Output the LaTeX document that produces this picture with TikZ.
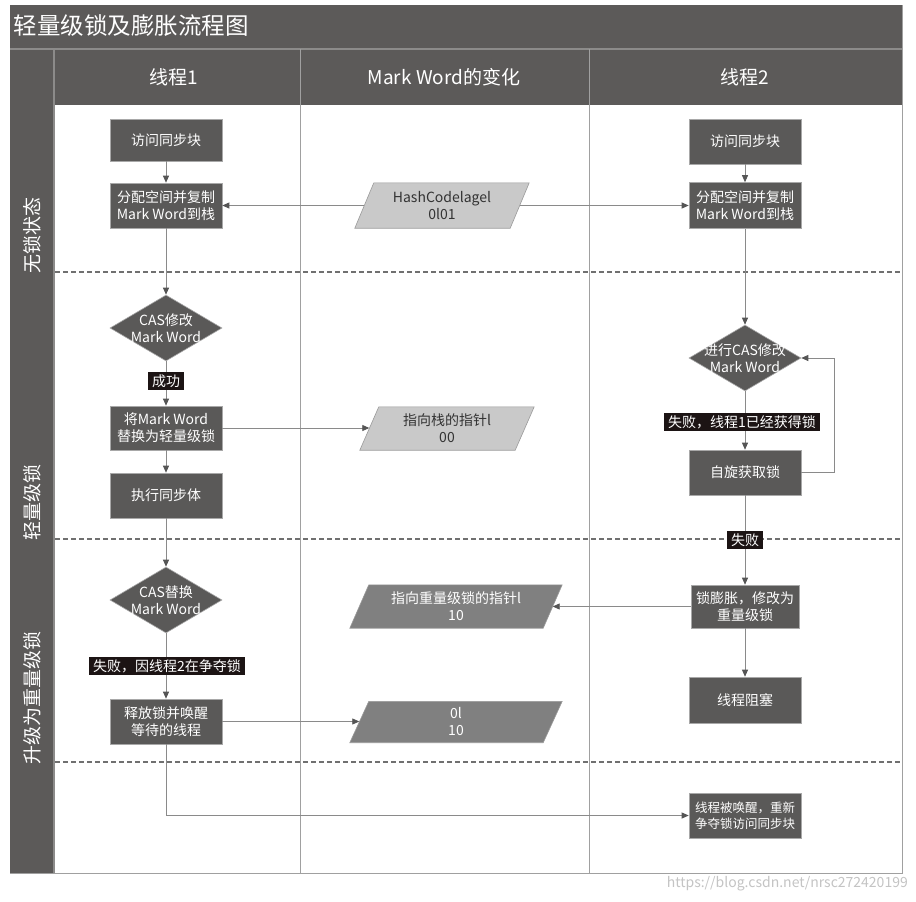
\documentclass[tikz,border=0pt]{standalone}
\usepackage{fontspec}
\setmainfont{Noto Sans CJK SC}
\usetikzlibrary{shapes.geometric,arrows.meta}
\definecolor{bar}{HTML}{5C5A59}
\definecolor{barline}{HTML}{8C8B8A}
\definecolor{boxgray}{HTML}{5A5958}
\definecolor{boxedge}{HTML}{A8A8A8}
\definecolor{paralight}{HTML}{C9C9C9}
\definecolor{paramid}{HTML}{808080}
\definecolor{paraedge}{HTML}{9A9A9A}
\definecolor{lblblack}{HTML}{1C1414}
\definecolor{linegray}{HTML}{8A8A8A}
\definecolor{arrowgray}{HTML}{555555}
\definecolor{gridgray}{HTML}{A0A0A0}
\definecolor{dashgray}{HTML}{707070}
\definecolor{wm}{HTML}{C4C4C4}
\newcommand\pgram[2]{\filldraw[fill=#2, draw=paraedge, line width=0.6pt]
  ([xshift=-9.5pt]#1.south west) -- ([xshift=9.5pt]#1.north west) --
  ([xshift=9.5pt]#1.north east) -- ([xshift=-9.5pt]#1.south east) -- cycle;}
\begin{document}
\begin{tikzpicture}[x=1pt,y=-1pt,
  proc/.style={rectangle, fill=boxgray, draw=boxedge, line width=0.6pt, text=white,
    minimum width=112pt, minimum height=44pt, inner sep=0pt, align=center,
    font=\fontsize{14pt}{17pt}\selectfont},
  dec/.style={diamond, fill=boxgray, draw=boxedge, line width=0.6pt,
    minimum width=112pt, minimum height=66pt, inner sep=0pt},
  dectext/.style={text=white, align=center, inner sep=0pt,
    font=\fontsize{14pt}{17pt}\selectfont},
  pbox/.style={rectangle, minimum height=43pt, inner sep=0pt},
  ptext/.style={align=center, inner sep=0pt, font=\fontsize{14pt}{17pt}\selectfont},
  lbl/.style={fill=lblblack, text=white, inner xsep=4pt, inner ysep=2.5pt,
    font=\fontsize{14pt}{15pt}\selectfont},
  conn/.style={draw=linegray, line width=0.8pt,
    -{Triangle[length=7pt,width=6pt,color=arrowgray]}},
  head/.style={text=white, font=\fontsize{19pt}{21pt}\selectfont},
  lane/.style={text=white, rotate=90, font=\fontsize{19pt}{21pt}\selectfont},
  dashsep/.style={draw=dashgray, line width=2pt, dash pattern=on 5pt off 3pt},
  grid/.style={draw=gridgray, line width=1pt},
]
\useasboundingbox (0,0) rectangle (916,902);
\fill[white] (0,0) rectangle (916,902);
% frame and bars
\draw[draw=gridgray, line width=1pt] (10,5) rectangle (902,873);
\fill[bar] (10,5) rectangle (902,105);
\fill[bar] (10,105) rectangle (54,873);
\draw[draw=barline, line width=1.2pt] (10,49) -- (902,49);
\draw[draw=barline, line width=1.2pt] (54,49) -- (54,873);
\draw[grid] (300,49) -- (300,873);
\draw[grid] (589,49) -- (589,873);
\draw[grid] (902,49) -- (902,873);
\node[text=white, anchor=west, font=\fontsize{23.5pt}{25pt}\selectfont] (title) at (10,26) {轻量级锁及膨胀流程图};
\node[head] (h1) at (174,77) {线程1};
\node[head] (h2) at (444,77) {Mark Word的变化};
\node[head] (h3) at (745,77) {线程2};
\node[lane] (ln1) at (32,235) {无锁状态};
\node[lane] (ln2) at (32,502) {轻量级锁};
\node[lane] (ln3) at (32,698) {升级为重量级锁};
% dashed separators
\draw[dashsep] (55,272) -- (902,272);
\draw[dashsep] (55,539) -- (902,539);
\draw[dashsep] (55,762) -- (902,762);
% thread 1
\node[proc, minimum height=42pt] (t1a) at (166,140) {访问同步块};
\node[proc, minimum height=45pt] (t1b) at (166,205.5) {分配空间并复制\\Mark Word到栈};
\node[dec] (d1) at (166,328) {};
\node[dectext] (d1t) at (166,328) {CAS修改\\Mark Word};
\node[proc] (t1c) at (166,428) {将Mark Word\\替换为轻量级锁};
\node[proc, minimum height=45pt] (t1d) at (166,495.5) {执行同步体};
\node[dec] (d2) at (166,600) {};
\node[dectext] (d2t) at (166,600) {CAS替换\\Mark Word};
\node[proc, minimum height=45pt] (t1e) at (166,721.5) {释放锁并唤醒\\等待的线程};
% mark word column
\node[pbox, minimum width=155pt, minimum height=45pt] (p1) at (442,205.5) {};
\pgram{p1}{paralight}
\node[ptext, text=black!80] (p1t) at (p1) {HashCodelagel\\0l01};
\node[pbox, minimum width=155pt] (p2) at (447,428.5) {};
\pgram{p2}{paralight}
\node[ptext, text=black!80] (p2t) at (p2) {指向栈的指针l\\00};
\node[pbox, minimum width=193pt] (p3) at (456,606.5) {};
\pgram{p3}{paramid}
\node[ptext, text=white] (p3t) at (p3) {指向重量级锁的指针l\\10};
\node[pbox, minimum width=193pt, minimum height=41pt] (p4) at (456,722) {};
\pgram{p4}{paramid}
\node[ptext, text=white] (p4t) at (p4) {0l\\10};
% thread 2
\node[proc, minimum height=45pt] (t2a) at (745,141.5) {访问同步块};
\node[proc, minimum height=46pt] (t2b) at (745,205.5) {分配空间并复制\\Mark Word到栈};
\node[dec] (d3) at (745,358) {};
\node[dectext] (d3t) at (745,358) {进行CAS修改\\Mark Word};
\node[proc, minimum height=45pt] (t2c) at (745,472.5) {自旋获取锁};
\node[proc, minimum width=108pt, minimum height=43pt] (t2d) at (745,606.5) {锁膨胀，修改为\\重量级锁};
\node[proc, minimum height=46pt] (t2e) at (745,700) {线程阻塞};
\node[proc, minimum height=45pt, font=\fontsize{12.5pt}{16pt}\selectfont] (t2f) at (745,815.5) {线程被唤醒，重新\\争夺锁访问同步块};
% connectors
\draw[conn] (t1a.south) -- (t1b.north);
\draw[conn] (t1b.south) -- (d1.north);
\draw[conn] (d1.south) -- (t1c.north);
\draw[conn] (t1c.south) -- (t1d.north);
\draw[conn] (t1d.south) -- (d2.north);
\draw[conn] (d2.south) -- (t1e.north);
\draw[conn] (p1.west) -- (t1b.east);
\draw[conn] (p1.east) -- (t2b.west);
\draw[conn] (t1c.east) -- (t1c.east -| p2.west);
\draw[conn] (t1e.east) -- (t1e.east -| p4.west);
\draw[conn] (t1e.south) |- (t2f.west);
\draw[conn] (t2a.south) -- (t2b.north);
\draw[conn] (t2b.south) -- (d3.north);
\draw[conn] (d3.south) -- (t2c.north);
\draw[conn] (t2c.east) -- ++(33,0) |- (d3.east);
\draw[conn] (t2c.south) -- (t2d.north);
\draw[conn] (t2d.west) -- (p3.east);
\draw[conn] (t2d.south) -- (t2e.north);
% labels
\node[lbl] (l1) at (166,381) {成功};
\node[lbl] (l2) at (167,666) {失败，因线程2在争夺锁};
\node[lbl] (l3) at (742,422) {失败，线程1已经获得锁};
\node[lbl] (l4) at (745,540) {失败};
% watermark
\node[anchor=east, text=wm, inner sep=0pt, font=\fontsize{14pt}{16pt}\selectfont] (wmk) at (908,884) {https://blog.csdn.net/nrsc272420199};
\end{tikzpicture}
\end{document}
